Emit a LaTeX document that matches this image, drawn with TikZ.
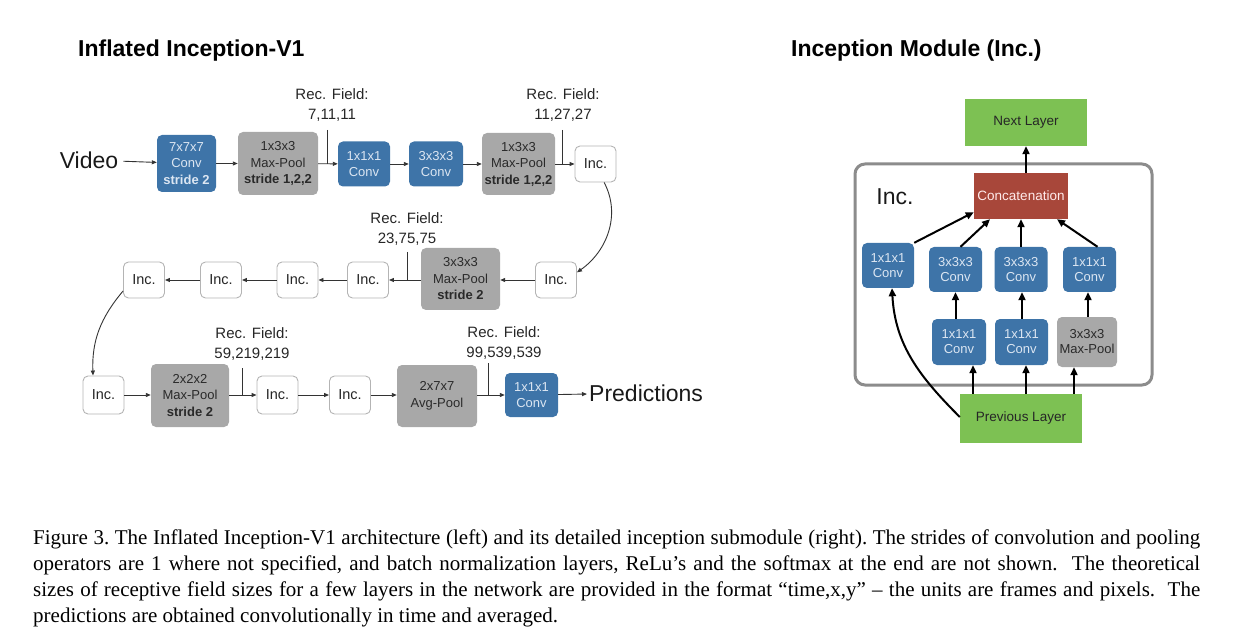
\documentclass[tikz,border=0pt]{standalone}
\usepackage{fontspec}
\setmainfont{Liberation Serif}
\setsansfont{Liberation Sans}
\usetikzlibrary{arrows.meta}
\definecolor{convblue}{HTML}{3E74A8}
\definecolor{convtext}{HTML}{DCE6F2}
\definecolor{poolgray}{HTML}{A8A8A8}
\definecolor{pooltext}{HTML}{2A2A2A}
\definecolor{incgray}{HTML}{B4B4B4}
\definecolor{arrgray}{HTML}{333333}
\definecolor{layergreen}{HTML}{7DC153}
\definecolor{concatred}{HTML}{A8473A}
\definecolor{modgray}{HTML}{8C8C8C}
\begin{document}
\begin{tikzpicture}[x=1pt,y=-1pt,
  blk/.style={rounded corners=5pt, inner sep=0pt, align=center, font=\sffamily\fontsize{13}{16.5}\selectfont},
  conv/.style={blk, fill=convblue, text=convtext},
  pool/.style={blk, fill=poolgray, text=pooltext},
  incbox/.style={blk, draw=incgray, line width=0.9pt, fill=white, text=black!85,
     minimum width=41pt, minimum height=36pt, font=\sffamily\fontsize{14.5}{16}\selectfont},
  arr/.style={-{Triangle[length=5pt,width=4pt]}, line width=0.9pt, draw=arrgray},
  rfline/.style={line width=0.9pt, draw=arrgray},
  rf/.style={align=center, inner sep=0pt, text=black!85, font=\sffamily\fontsize{15}{20}\selectfont},
  big/.style={inner sep=2pt, text=black!90, font=\sffamily\fontsize{23}{26}\selectfont},
  ttl/.style={inner sep=0pt, font=\sffamily\bfseries\fontsize{23}{26}\selectfont},
  mconv/.style={conv, font=\sffamily\fontsize{13}{15}\selectfont, minimum width=53pt, minimum height=45pt},
  layer/.style={inner sep=0pt, fill=layergreen, text=black!85, font=\sffamily\fontsize{13.5}{15}\selectfont, minimum width=122pt},
  arrb/.style={-{Triangle[length=8pt,width=7pt]}, line width=2pt, draw=black},
]
\useasboundingbox (0,0) rectangle (1234,636);

% ---------- titles ----------
\node[ttl, anchor=west] (t1) at (78,51) {Inflated Inception-V1};
\node[ttl, anchor=west] (t2) at (791,51) {Inception Module (Inc.)};

% ---------- top row ----------
\node[big, inner sep=5pt] (video) at (89,160) {Video};
\node[conv, minimum width=59pt, minimum height=57pt] (c1) at (186.5,163.5) {7x7x7\\Conv\\\textbf{stride 2}};
\node[pool, minimum width=80pt, minimum height=63pt] (p1) at (278,163.5) {1x3x3\\Max-Pool\\\textbf{stride 1,2,2}};
\node[conv, minimum width=52pt, minimum height=45pt] (c2) at (364,164) {1x1x1\\Conv};
\node[conv, minimum width=54pt, minimum height=45pt] (c3) at (436,164) {3x3x3\\Conv};
\node[pool, minimum width=73pt, minimum height=62pt] (p2) at (518.5,164) {1x3x3\\Max-Pool\\\textbf{stride 1,2,2}};
\node[incbox] (i1) at (595.5,164) {Inc.};

\draw[arr] (video) -- (c1);
\draw[arr] (c1) -- (p1);
\draw[arr] (p1) -- (c2);
\draw[arr] (c2) -- (c3);
\draw[arr] (c3) -- (p2);
\draw[arr] (p2) -- (i1);

\node[rf] (rf1) at (332,105) {Rec. Field:\\7,11,11};
\coordinate (rf1a) at (327,130);
\draw[rfline] (rf1a) -- (rf1a |- c2.west);
\node[rf] (rf2) at (563,105) {Rec. Field:\\11,27,27};
\coordinate (rf2a) at (562,130);
\draw[rfline] (rf2a) -- (rf2a |- i1.west);

% ---------- middle row ----------
\node[incbox] (i2) at (556,280) {Inc.};
\node[pool, minimum width=79pt, minimum height=62pt] (p3) at (460.5,279) {3x3x3\\Max-Pool\\\textbf{stride 2}};
\node[incbox] (i3) at (368,280) {Inc.};
\node[incbox] (i4) at (297.5,280) {Inc.};
\node[incbox] (i5) at (221,280) {Inc.};
\node[incbox] (i6) at (144,280) {Inc.};

\draw[arr] (i1.-65) to[out=-62,in=35] (i2.20);
\draw[arr] (i2) -- (i2 -| p3.east);
\draw[arr] (p3.west |- i3) -- (i3);
\draw[arr] (i3) -- (i4);
\draw[arr] (i4) -- (i5);
\draw[arr] (i5) -- (i6);

\node[rf] (rf3) at (407,229) {Rec. Field:\\23,75,75};
\coordinate (rf3a) at (407,252);
\draw[rfline] (rf3a) -- (rf3a |- i3.east);

% ---------- bottom row ----------
\node[incbox, minimum height=38pt] (i7) at (103.5,395) {Inc.};
\node[pool, minimum width=78pt, minimum height=63pt] (p4) at (190,395.5) {2x2x2\\Max-Pool\\\textbf{stride 2}};
\node[incbox, minimum height=38pt] (i8) at (277.5,395) {Inc.};
\node[incbox, minimum height=38pt] (i9) at (350,395) {Inc.};
\node[pool, minimum width=80pt, minimum height=62pt] (p5) at (437,396) {2x7x7\\Avg-Pool};
\node[conv, minimum width=53pt, minimum height=44pt] (c4) at (531.5,395) {1x1x1\\Conv};
\node[big, anchor=west] (pred) at (587,393) {Predictions};

\draw[arr] ([yshift=-11pt]i6.west) to[out=-130,in=92] ([xshift=-10.5pt]i7.north);
\draw[arr] (i7) -- (i7 -| p4.west);
\draw[arr] (p4.east |- i8) -- (i8);
\draw[arr] (i8) -- (i9);
\draw[arr] (i9) -- (i9 -| p5.west);
\draw[arr] (p5.east |- c4) -- (c4);
\draw[arr] (c4) -- (pred);

\node[rf] (rf4) at (252,344) {Rec. Field:\\59,219,219};
\coordinate (rf4a) at (242,368);
\draw[rfline] (rf4a) -- (rf4a |- i8.west);
\node[rf] (rf5) at (504,343) {Rec. Field:\\99,539,539};
\coordinate (rf5a) at (488,363);
\draw[rfline] (rf5a) -- (rf5a |- c4.west);

% ---------- inception module ----------
\node[draw=modgray, line width=3pt, rounded corners=10pt, minimum width=297pt, minimum height=221pt, inner sep=0pt] (mod) at (1003.5,274.5) {};
\node[big, inner sep=0pt] (inclabel) at (895,197) {Inc.};
\node[layer, minimum height=47pt] (next) at (1026,122.5) {Next Layer};
\node[inner sep=0pt, fill=concatred, text=white!92!red, font=\sffamily\fontsize{13.5}{15}\selectfont, minimum width=94pt, minimum height=46pt] (concat) at (1021,196) {Concatenation};
\node[mconv, minimum width=52pt] (a1) at (888,265.5) {1x1x1\\Conv};
\node[mconv] (a2) at (955.5,269.5) {3x3x3\\Conv};
\node[mconv] (a3) at (1021,269.5) {3x3x3\\Conv};
\node[mconv] (a4) at (1089.5,269.5) {1x1x1\\Conv};
\node[mconv, minimum width=54pt, minimum height=46pt] (b1) at (959,342) {1x1x1\\Conv};
\node[mconv, minimum height=46pt] (b2) at (1021.5,342) {1x1x1\\Conv};
\node[pool, font=\sffamily\fontsize{13}{15}\selectfont, minimum width=60pt, minimum height=50pt] (b3) at (1087,342) {3x3x3\\Max-Pool};
\node[layer, minimum height=49pt] (prev) at (1021,418.5) {Previous Layer};

\draw[arrb] (concat.north -| next.south) -- (next.south);
\draw[arrb] (a1.north east) -- ([yshift=7pt]concat.south west);
\draw[arrb] ([xshift=5pt]a2.north) -- ([xshift=-31pt]concat.south);
\draw[arrb] (a3.north) -- (concat.south);
\draw[arrb] ([xshift=8pt]a4.north) -- ([xshift=36pt]concat.south);
\draw[arrb] (a2 |- b1.north) -- (a2.south);
\draw[arrb] ([xshift=1pt]a3 |- b2.north) -- ([xshift=1pt]a3.south);
\draw[arrb] ([xshift=-1.5pt]a4 |- b3.north) -- ([xshift=-1.5pt]a4.south);
\draw[arrb] ([xshift=14pt]b1.south |- prev.north) -- ([xshift=14pt]b1.south);
\draw[arrb] ([xshift=4.5pt]b2.south |- prev.north) -- ([xshift=4.5pt]b2.south);
\draw[arrb] ([xshift=-13pt]b3.south |- prev.north) -- ([xshift=-13pt]b3.south);
\draw[arrb] ([yshift=1.5pt]prev.west) to[out=135,in=-87] ([xshift=4pt]a1.south);

% ---------- caption ----------
\node[anchor=north west, inner sep=0pt, align=left, text=black, font=\rmfamily\fontsize{21}{25.7}\selectfont\frenchspacing] (cap) at (33,530) {%
\hbox to 1167pt{Figure 3. The Inflated Inception-V1 architecture (left) and its detailed inception submodule (right). The strides of convolution and pooling}\\
\hbox to 1167pt{operators are 1 where not specified, and batch normalization layers, ReLu’s and the softmax at the end are not shown.\ \ The theoretical}\\
\hbox to 1167pt{sizes of receptive field sizes for a few layers in the network are provided in the format “time,x,y” – the units are frames and pixels.\ \ The}\\
\hbox{predictions are obtained convolutionally in time and averaged.}};
\end{tikzpicture}
\end{document}
